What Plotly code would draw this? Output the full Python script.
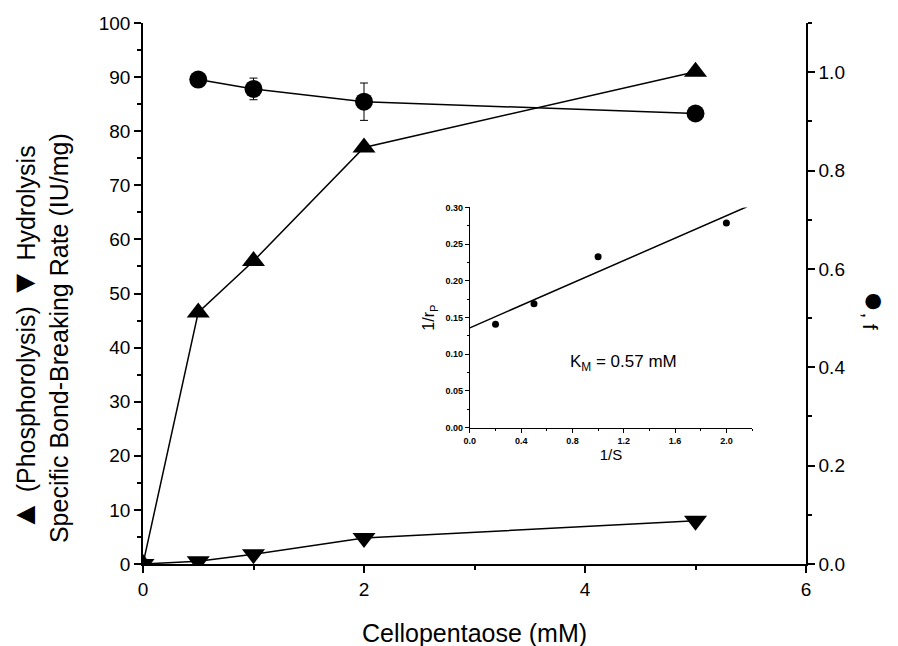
import plotly.graph_objects as go

# Main chart data
conc = [0, 0.5, 1, 2, 5]
phospho = [0, 46.5, 56, 77, 91]
hydro = [0, 0.5, 1.8, 4.8, 8]
f_x = [0.5, 1, 2, 5]
f_val = [0.985, 0.966, 0.940, 0.916]
f_err = [0, 0.022, 0.038, 0]

# Inset (Lineweaver-Burk) data
inv_s = [0.2, 0.5, 1.0, 2.0]
inv_r = [0.141, 0.169, 0.233, 0.279]
fit_x = [0, 2.16]
fit_y = [0.136, 0.301]

FONT = "Liberation Sans, Arial, sans-serif"
BLACK = "black"

fig = go.Figure()

fig.add_trace(go.Scatter(x=conc, y=phospho, mode="lines+markers",
                         line=dict(color=BLACK, width=1.5),
                         marker=dict(symbol="triangle-up", size=20, color=BLACK),
                         xaxis="x", yaxis="y", showlegend=False))
fig.add_trace(go.Scatter(x=conc, y=hydro, mode="lines+markers",
                         line=dict(color=BLACK, width=1.5),
                         marker=dict(symbol="triangle-down", size=20, color=BLACK),
                         xaxis="x", yaxis="y", showlegend=False))
fig.add_trace(go.Scatter(x=f_x, y=f_val, mode="lines+markers",
                         line=dict(color=BLACK, width=1.5),
                         marker=dict(symbol="circle", size=18, color=BLACK),
                         error_y=dict(type="data", array=f_err, color=BLACK, thickness=1, width=4),
                         xaxis="x", yaxis="y2", showlegend=False))

fig.add_trace(go.Scatter(x=fit_x, y=fit_y, mode="lines",
                         line=dict(color=BLACK, width=1.5),
                         xaxis="x3", yaxis="y3", showlegend=False))
fig.add_trace(go.Scatter(x=inv_s, y=inv_r, mode="markers",
                         marker=dict(symbol="circle", size=7, color=BLACK),
                         xaxis="x3", yaxis="y3", showlegend=False))

axis_common = dict(showgrid=False, zeroline=False, showline=True, linecolor=BLACK,
                   linewidth=1.5, ticks="outside", tickcolor=BLACK, tickwidth=1.5,
                   tickfont=dict(family=FONT, size=19, color=BLACK))
minor_common = dict(ticks="outside", ticklen=4, tickcolor=BLACK, tickwidth=1.5)

inset_tickfont = dict(family=FONT, size=9, color=BLACK, weight="bold")

fig.update_layout(
    width=898, height=646,
    margin=dict(l=143, r=92, t=23, b=82),
    paper_bgcolor="white", plot_bgcolor="white",
    font=dict(family=FONT, color=BLACK),
    xaxis=dict(range=[0, 6], dtick=2, ticklen=7, minor=dict(dtick=1, **minor_common), **axis_common),
    yaxis=dict(range=[0, 100], dtick=10, ticklen=7, minor=dict(dtick=5, **minor_common), **axis_common),
    yaxis2=dict(range=[0, 1.1], dtick=0.2, tickformat=".1f", overlaying="y", side="right",
                ticklen=7, anchor="x", minor=dict(dtick=0.1, **minor_common), **axis_common),
    xaxis3=dict(domain=[0.493, 0.9186], anchor="y3", range=[0, 2.2], dtick=0.4, tickformat=".1f",
                showgrid=False, zeroline=False, showline=True, linecolor=BLACK, linewidth=1.2,
                ticks="outside", ticklen=4, tickcolor=BLACK, tickwidth=1,
                minor=dict(dtick=0.2, ticks="outside", ticklen=2, tickcolor=BLACK),
                tickfont=inset_tickfont,
                title=dict(text="1/S", font=dict(family=FONT, size=15, color=BLACK), standoff=2)),
    yaxis3=dict(domain=[0.252, 0.659], anchor="x3", range=[0, 0.30], dtick=0.05, tickformat=".2f",
                showgrid=False, zeroline=False, showline=True, linecolor=BLACK, linewidth=1.2,
                ticks="outside", ticklen=4, tickcolor=BLACK, tickwidth=1,
                minor=dict(dtick=0.025, ticks="outside", ticklen=2, tickcolor=BLACK),
                tickfont=inset_tickfont,
                title=dict(text="1/r<sub>P</sub>", font=dict(family=FONT, size=16, color=BLACK), standoff=6)),
)

fig.add_annotation(text="K<sub>M</sub> = 0.57 mM", x=1.2, y=0.088, xref="x3", yref="y3",
                   showarrow=False, font=dict(family=FONT, size=17, color=BLACK))

fig.add_annotation(text="<span style='font-size:32px'>▲</span> (Phosphorolysis) "
                        "<span style='font-size:32px'>▼</span> Hydrolysis<br>"
                        "Specific Bond-Breaking Rate (IU/mg)",
                   x=-0.155, y=0.418, xref="paper", yref="paper", textangle=-90,
                   xanchor="center", yanchor="middle",
                   showarrow=False, font=dict(family=FONT, size=25, color=BLACK))
fig.add_annotation(text="Cellopentaose (mM)", x=0.5, y=-0.1275, xref="paper", yref="paper",
                   xanchor="center", yanchor="middle",
                   showarrow=False, font=dict(family=FONT, size=25, color=BLACK))
fig.add_annotation(text="<span style='font-size:36px'>●</span>, f", x=1.105, y=0.469,
                   xref="paper", yref="paper", textangle=90, xanchor="center", yanchor="middle",
                   showarrow=False, font=dict(family=FONT, size=21, color=BLACK))

fig.write_html("out.html")
